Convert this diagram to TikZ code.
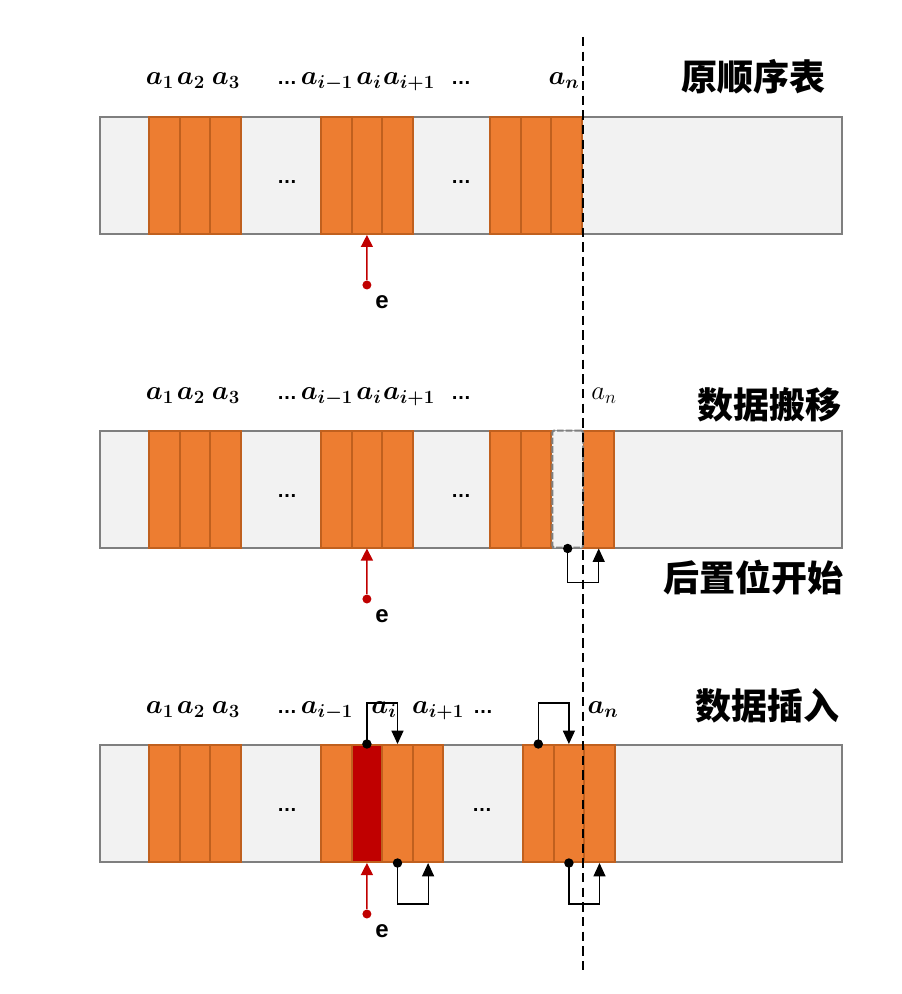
\RequirePackage{fix-cm}
\documentclass[tikz,border=0pt]{standalone}
\usepackage{amsmath,bm}
\usepackage{fontspec}
\setsansfont{Liberation Sans}
\newfontfamily\cjk{Noto Sans CJK SC}
\usetikzlibrary{arrows.meta}
\definecolor{barfill}{HTML}{F2F2F2}
\definecolor{barline}{HTML}{7F7F7F}
\definecolor{cellfill}{HTML}{ED7D31}
\definecolor{cellline}{HTML}{C0601E}
\definecolor{cellred}{HTML}{C00000}
\definecolor{holeline}{HTML}{7F7F7F}

\begin{document}
\begin{tikzpicture}[x=0.75pt,y=-0.75pt,
    bar/.style={draw=barline,fill=barfill,line width=1.5pt,minimum width=556.5pt,
                minimum height=87.75pt,inner sep=0pt},
    cell/.style={draw=cellline,fill=cellfill,line width=1.5pt,minimum width=22.95pt,
                 minimum height=87.75pt,inner sep=0pt},
    redcell/.style={cell,fill=cellred},
    hole/.style={cell,draw=holeline,fill=barfill,dash pattern=on 5pt off 1.5pt,
                 rounded corners=1.5pt},
    lab/.style={anchor=base,inner sep=0pt,font=\fontsize{20}{24}\selectfont},
    ellip/.style={inner sep=0pt,font=\sffamily\bfseries\fontsize{15}{18}\selectfont},
    headtxt/.style={anchor=east,inner sep=0pt,font=\cjk\bfseries\fontsize{27}{32}\selectfont},
    elab/.style={inner sep=0pt,font=\sffamily\bfseries\fontsize{18}{20}\selectfont},
    rdot/.style={circle,fill=cellred,inner sep=0pt,minimum size=6.75pt},
    redarr/.style={draw=cellred,line width=1pt,-{Triangle[width=9pt,length=9pt]}},
    conn/.style={draw=black,line width=0.9pt,
                 {Circle[length=7pt]}-{Triangle[width=9pt,length=10pt]},shorten <=-3.5pt},
    guide/.style={draw=black,line width=1.5pt,dash pattern=on 7pt off 4pt}]

  \useasboundingbox (0,0) rectangle (901,994);

  % the three tables
  \node[bar] (b1) at (471,175.5) {};
  \node[bar] (b2) at (471,489) {};
  \node[bar] (b3) at (471,803.5) {};

  \foreach \x [count=\k] in {149,179.6,210.2,321,351.6,382.2,490,520.6,551.2}
    \node[cell] (p\k) at (\x+15.3,175.5) {};
  \foreach \x [count=\k] in {149,179.6,210.2,321,351.6,382.2,490,520.6,583.4}
    \node[cell] (q\k) at (\x+15.3,489) {};
  \node[hole] (gap) at (567.7,489) {};
  \foreach \x/\s [count=\k] in {149/cell,179.6/cell,210.2/cell,321/cell,351.6/redcell,
                                382.2/cell,412.8/cell,523/cell,553.6/cell,584.2/cell}
    \node[\s] (r\k) at (\x+15.3,803.5) {};

  \node[ellip] (d1) at (287,182) {…};
  \node[ellip] (d2) at (461,182) {…};
  \node[ellip] (d3) at (287,496) {…};
  \node[ellip] (d4) at (461,496) {…};
  \node[ellip] (d5) at (287,810) {…};
  \node[ellip] (d6) at (482,810) {…};

  % element labels
  \foreach \y [count=\r] in {85,399,713} {
    \node[lab] (l\r a) at (160,\y) {$\bm{a_1}$};
    \node[lab] (l\r b) at (191,\y) {$\bm{a_2}$};
    \node[lab] (l\r c) at (226,\y) {$\bm{a_3}$};
    \node[lab,font=\sffamily\bfseries\fontsize{15}{18}\selectfont] (l\r d) at (287,\y) {…};
    \node[lab] (l\r e) at (327,\y) {$\bm{a_{i-1}}$};
  }
  \foreach \y [count=\r] in {85,399} {
    \node[lab] (m\r a) at (369,\y) {$\bm{a_i}$};
    \node[lab] (m\r b) at (409,\y) {$\bm{a_{i+1}}$};
    \node[lab,font=\sffamily\bfseries\fontsize{15}{18}\selectfont] (m\r c) at (461,\y) {…};
  }
  \node[lab] (m3a) at (384,713) {$\bm{a_i}$};
  \node[lab] (m3b) at (438,713) {$\bm{a_{i+1}}$};
  \node[lab,font=\sffamily\bfseries\fontsize{15}{18}\selectfont] (m3c) at (483,713) {…};
  \node[lab] (n1) at (564,85) {$\bm{a_n}$};
  \node[lab] (n2) at (604,399) {$a_n$};
  \node[lab] (n3) at (603,713) {$\bm{a_n}$};

  % titles
  \node[headtxt] (h1) at (826,77) {原顺序表};
  \node[headtxt] (h2) at (842,405) {数据搬移};
  \node[headtxt] (h3) at (844,578) {后置位开始};
  \node[headtxt] (h4) at (840,706) {数据插入};

  % insert position e
  \foreach \y/\c [count=\k] in {285/p5,599/q5,914/r5} {
    \node[rdot] (e\k) at (366.9,\y) {};
    \node[elab] (t\k) at (382,\y+17) {e};
    \draw[redarr] (e\k) -- (\c.south);
  }

  % moves
  \draw[conn] (gap.south) -- ++(0,34) -| (q9.south);
  \draw[conn] (r5.north) -- ++(0,-41) -| (r6.north);
  \draw[conn] (r8.north) -- ++(0,-41) -| (r9.north);
  \draw[conn] (r6.south) -- ++(0,41) -| (r7.south);
  \draw[conn] (r9.south) -- ++(0,41) -| (r10.south);

  \coordinate (gtop) at (583,37);
  \coordinate (gbot) at (583,975);
  \draw[guide] (gtop) -- (gbot);
\end{tikzpicture}
\end{document}
